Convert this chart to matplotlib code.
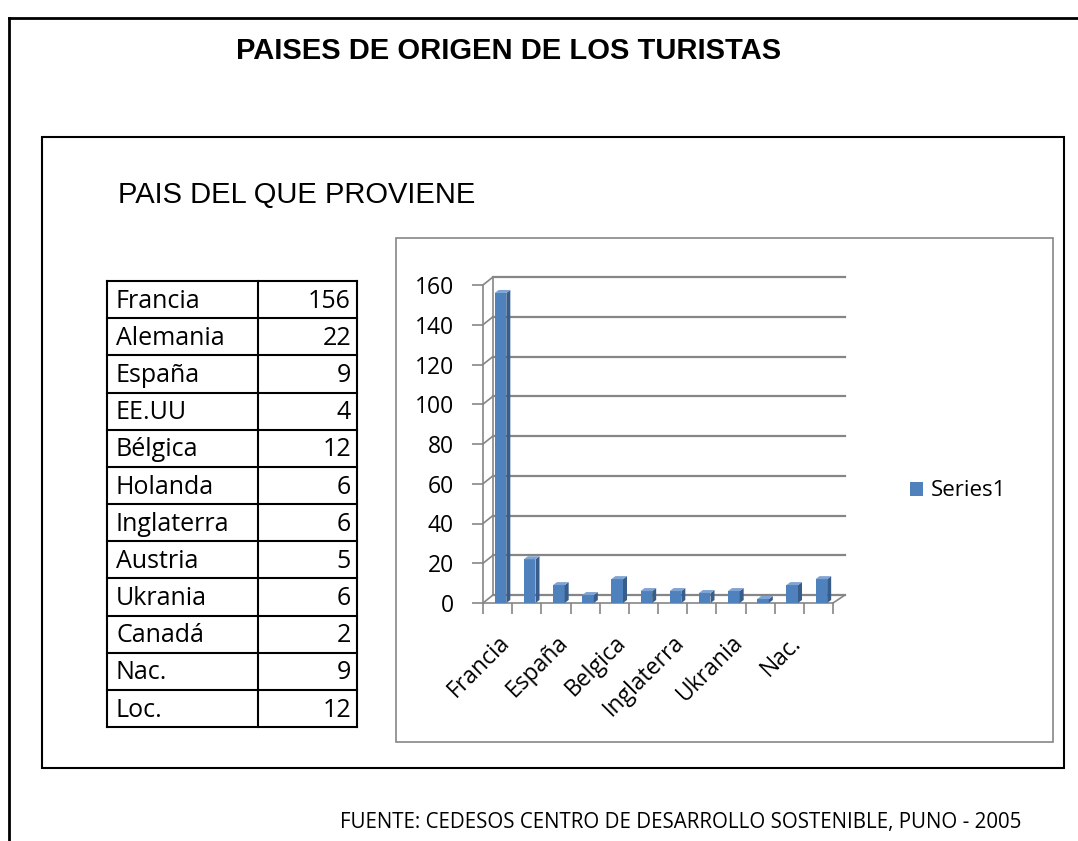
import matplotlib
matplotlib.use("Agg")
import matplotlib.pyplot as plt
from matplotlib.patches import Rectangle, Polygon
from matplotlib.lines import Line2D

countries = ['Francia', 'Alemania', 'España', 'EE.UU', 'Bélgica', 'Holanda',
             'Inglaterra', 'Austria', 'Ukrania', 'Canadá', 'Nac.', 'Loc.']
axis_labels = ['Francia', 'Alemania', 'España', 'EE.UU', 'Belgica', 'Holanda',
               'Inglaterra', 'Austria', 'Ukrania', 'Canadá', 'Nac.', 'Loc.']
tourists = [156, 22, 9, 4, 12, 6, 6, 5, 6, 2, 9, 12]
y_ticks = [0, 20, 40, 60, 80, 100, 120, 140, 160]

W, H = 1078, 841
fig = plt.figure(figsize=(W / 100, H / 100), dpi=100)

calibri = ['Open Sans', 'DejaVu Sans']
arial = ['Liberation Sans', 'DejaVu Sans']
grey = '#868686'


def fx(x):
    return x / W


def fy(y):
    return 1 - y / H


def frame(x0, y0, x1, y1, **kw):
    fig.add_artist(Rectangle((fx(x0), fy(y1)), (x1 - x0) / W, (y1 - y0) / H,
                             transform=fig.transFigure, fill=False, **kw))


# outer page frame (only top and left visible)
fig.add_artist(Line2D([fx(9), 1], [fy(18), fy(18)], color='black', lw=2))
fig.add_artist(Line2D([fx(9), fx(9)], [fy(18), 0], color='black', lw=2))
frame(42, 137, 1064, 768, edgecolor='black', lw=1.5)
frame(396, 238, 1053, 742, edgecolor=grey, lw=1.2)

fig.text(fx(509), fy(59), 'PAISES DE ORIGEN DE LOS TURISTAS', family=arial,
         weight='bold', fontsize=21, ha='center', va='baseline')
fig.text(fx(118), fy(203), 'PAIS DEL QUE PROVIENE', family=arial,
         fontsize=21, ha='left', va='baseline')
fig.text(fx(340), fy(828), 'FUENTE: CEDESOS CENTRO DE DESARROLLO SOSTENIBLE, PUNO - 2005',
         family=calibri, fontsize=14.8, ha='left', va='baseline')

# data table
tab = fig.add_axes([fx(107), fy(727), 250 / W, 446 / H])
tab.set_xlim(0, 250)
tab.set_ylim(len(countries), 0)
tab.axis('off')
for r in range(len(countries) + 1):
    tab.plot([0, 250], [r, r], color='black', lw=1.5, clip_on=False)
for xc in (0, 151, 250):
    tab.plot([xc, xc], [0, len(countries)], color='black', lw=1.5, clip_on=False)
for r, (c, v) in enumerate(zip(countries, tourists)):
    tab.text(9, r + 0.72, c, family=calibri, fontsize=18, ha='left', va='baseline')
    tab.text(244, r + 0.72, str(v), family=calibri, fontsize=18, ha='right', va='baseline')

# pseudo 3-D column chart
ax = fig.add_axes([fx(483), fy(603), 350 / W, 318 / H])
n = len(tourists)
ax.set_xlim(-0.5, n - 0.5)
ax.set_ylim(0, 160)
ux = n / 350      # data units per pixel, x
uy = 160 / 318    # data units per pixel, y
wx, wy = 10 * ux, 8 * uy   # wall depth
bx, by = 4 * ux, 3 * uy    # bar depth

for t in y_ticks:
    ax.plot([-0.5 + wx, n - 0.5 + wx + 2 * ux], [t + wy, t + wy], color=grey, lw=1.6,
            clip_on=False, zorder=1)
    ax.plot([-0.5, -0.5 + wx], [t, t + wy], color=grey, lw=1.2, clip_on=False, zorder=1)
ax.plot([-0.5 + wx, -0.5 + wx], [wy, 160 + wy], color=grey, lw=1.2, clip_on=False, zorder=1)
ax.plot([n - 0.5, n - 0.5 + wx + 2 * ux], [0, wy], color=grey, lw=1.2, clip_on=False, zorder=1)

xs = list(range(n))
bars = ax.bar([x + 0.1 for x in xs], tourists, width=0.4, color='#4F81BD',
              edgecolor='none', zorder=3)
for b in bars:
    x0, x1, top = b.get_x(), b.get_x() + b.get_width(), b.get_height()
    ax.add_patch(Polygon([(x1, 0), (x1, top), (x1 + bx, top + by), (x1 + bx, by)],
                         closed=True, facecolor='#385D8A', edgecolor='none', zorder=3,
                         clip_on=False))
    ax.add_patch(Polygon([(x0, top), (x1, top), (x1 + bx, top + by), (x0 + bx, top + by)],
                         closed=True, facecolor='#7FA3D3', edgecolor='none', zorder=3,
                         clip_on=False))

for s in ('top', 'right'):
    ax.spines[s].set_visible(False)
for s in ('left', 'bottom'):
    ax.spines[s].set_color(grey)
    ax.spines[s].set_linewidth(1.2)
ax.set_facecolor('none')

ax.set_yticks(y_ticks)
ax.set_yticklabels([str(t) for t in y_ticks], family=calibri, fontsize=16.5)
ax.tick_params(axis='y', direction='out', length=8, color=grey, width=1.2, pad=13)

ax.set_xticks(xs[::2])
ax.set_xticklabels(axis_labels[::2], family=calibri, fontsize=16.5, rotation=45,
                   ha='right', rotation_mode='anchor')
ax.set_xticks([x - 0.5 for x in range(n + 1)], minor=True)
ax.tick_params(axis='x', which='major', length=0, pad=20)
ax.tick_params(axis='x', which='minor', direction='out', length=8, color=grey, width=1.2)

ax.legend([Rectangle((0, 0), 1, 1, facecolor='#4F81BD')], ['Series1'],
          loc='center left', bbox_to_anchor=(fx(890), fy(491)),
          bbox_transform=fig.transFigure, frameon=False,
          prop={'family': calibri, 'size': 16},
          handlelength=0.6, handleheight=0.6, handletextpad=0.35)

fig.savefig('out.png', dpi=100)
